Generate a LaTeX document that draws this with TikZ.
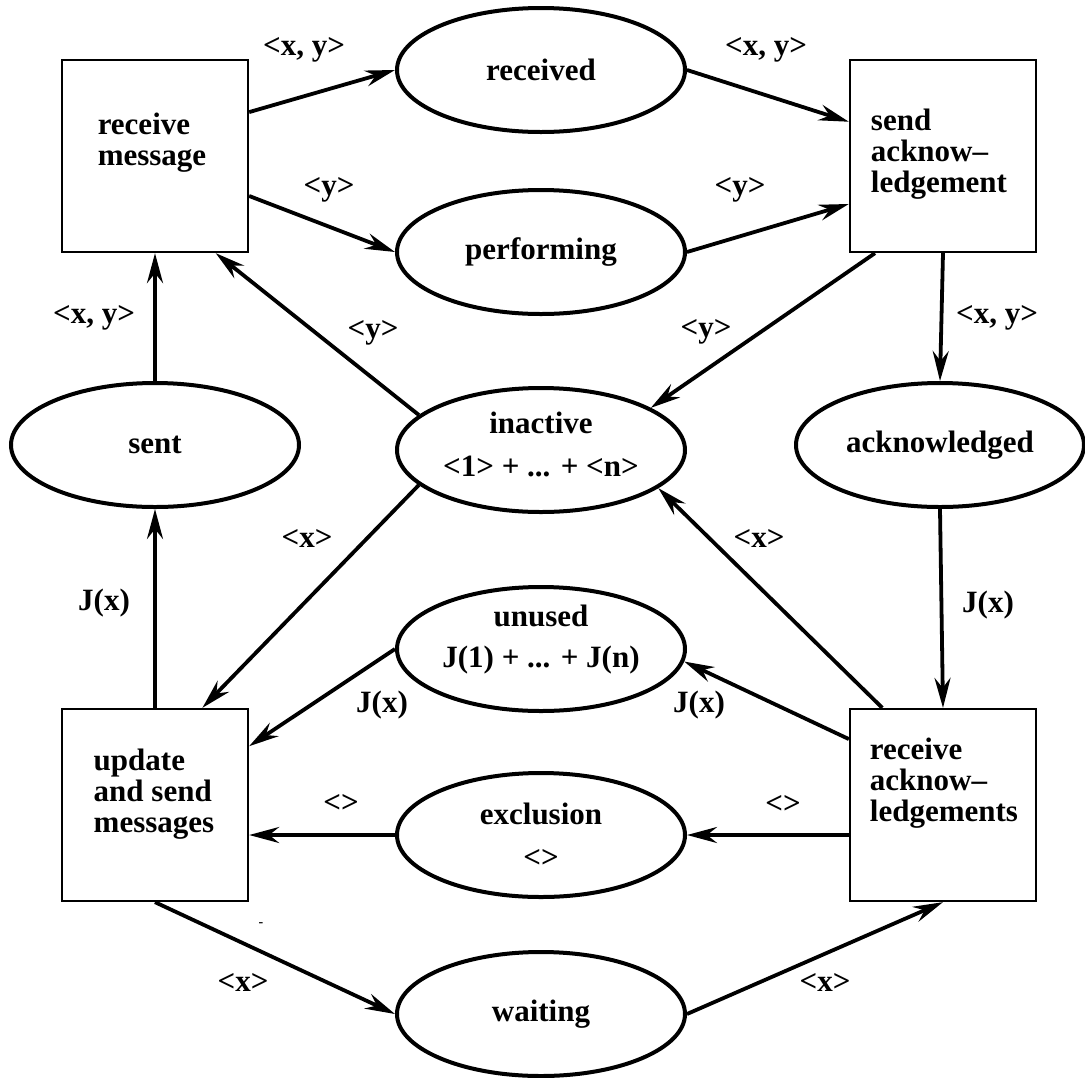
\documentclass[tikz,border=0pt]{standalone}
\usepackage{fontspec}
\setmainfont{Liberation Serif}
\usetikzlibrary{arrows.meta,shapes.geometric,positioning}

\begin{document}
\begin{tikzpicture}[x=1pt,y=-1pt,
  every node/.style={font=\fontsize{31}{31}\selectfont\bfseries},
  box/.style={draw,line width=2.3pt,rectangle,minimum width=186pt,minimum height=192pt,inner sep=0pt},
  boxtext/.style={align=left,inner sep=0pt},
  state/.style={draw,line width=4pt,ellipse,minimum width=288pt,minimum height=124pt,inner sep=0pt,align=center},
  lbl/.style={inner sep=0pt},
  flow/.style={line width=3.8pt,-{Stealth[length=30pt,width=16pt,inset=10pt]}}]
\useasboundingbox (0,0) rectangle (1085,1077);
% transitions
\node[box] (rm) at (155,156) {};
\node[box] (sa) at (943,156) {};
\node[box] (us) at (155,805) {};
\node[box] (ra) at (943,805) {};
\node[boxtext] (rmtext) at (152,143) {receive\\message};
\node[boxtext] (satext) at (939,154) {send\\acknow--\\ledgement};
\node[boxtext] (ustext) at (154,794) {update\\and send\\messages};
\node[boxtext] (ratext) at (944,783) {receive\\acknow--\\ledgements};
% places
\node[state] (rec) at (541,70) {received};
\node[state] (perf) at (541,252) {performing};
\node[state] (sent) at (155,445) {sent};
\node[state,label={[lbl,align=center,yshift=6pt]center:inactive\\[12pt]<1> + ... + <n>}] (inact) at (541,450) {};
\node[state] (ack) at (940,445) {acknowledged};
\node[state,label={[lbl,align=center,yshift=9pt]center:unused\\[10pt]J(1) + ... + J(n)}] (unused) at (541,649) {};
\node[state] (excl) at (541,835) {exclusion\\[12pt]<>};
\node[state] (wait) at (541,1014) {waiting};
% arcs
\draw[flow] (rm.25) -- (rec.west);
\draw[flow] (rm.-23) -- (perf.west);
\draw[flow] (rec.east) -- (sa.160);
\draw[flow] (perf.east) -- (sa.207);
\draw[flow] (sa.235) -- (inact.21);
\draw[flow] (sa.south) -- (ack.north);
\draw[flow] (inact.164) -- (rm.-58);
\draw[flow] (sent.north) -- (rm.south);
\draw[flow] (us.north) -- (sent.south);
\draw[flow] (inact.196) -- (us.64);
\draw[flow] (ack.south) -- (ra.north);
\draw[flow] (ra.122) -- (inact.-18);
\draw[flow] (unused.west) -- (us.32);
\draw[flow] (ra.145) -- (unused.-5);
\draw[flow] (excl.west) -- (excl.west -| us.east);
\draw[flow] (excl.east -| ra.west) -- (excl.east);
\draw[flow] (us.south) -- (wait.west);
\draw[flow] (wait.east) -- (ra.south);
% arc labels
\node[lbl] (l1) at (304,50) {<x, y>};
\node[lbl] (l2) at (329,190) {<y>};
\node[lbl] (l3) at (766,50) {<x, y>};
\node[lbl] (l4) at (740,190) {<y>};
\node[lbl] (l5) at (706,332) {<y>};
\node[lbl] (l6) at (997,318) {<x, y>};
\node[lbl] (l7) at (373,333) {<y>};
\node[lbl] (l8) at (94,318) {<x, y>};
\node[lbl] (l9) at (104,603) {J(x)};
\node[lbl] (l10) at (307,538) {<x>};
\node[lbl] (l11) at (988,605) {J(x)};
\node[lbl] (l12) at (759,538) {<x>};
\node[lbl] (l13) at (382,705) {J(x)};
\node[lbl] (l14) at (699,705) {J(x)};
\node[lbl] (l15) at (341,803) {<>};
\node[lbl] (l16) at (783,804) {<>};
\node[lbl] (l17) at (243,982) {<x>};
\node[lbl] (l18) at (825,982) {<x>};
\node[lbl,font=\fontsize{14}{14}\selectfont\bfseries] (tick) at (261,925) {-};
\end{tikzpicture}
\end{document}
